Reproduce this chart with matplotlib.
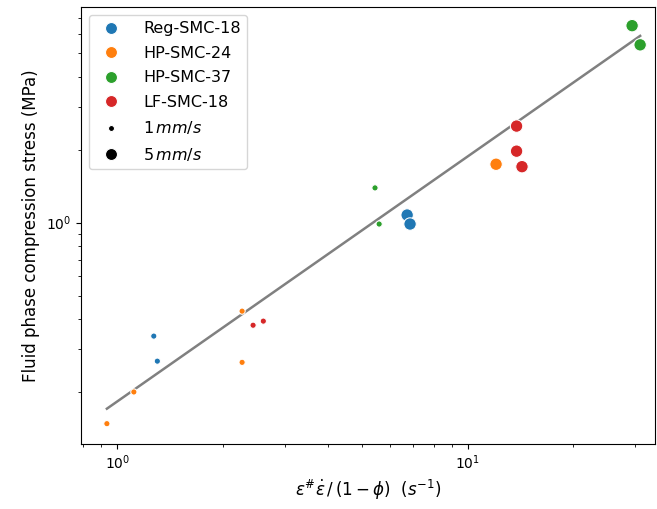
import numpy as np
import matplotlib
matplotlib.use('Agg')
from matplotlib import pyplot as plt
from matplotlib.lines import Line2D

# strain-rate term (1/s) and fluid phase stress (MPa)
reg_x = [1.27, 1.30, 6.72, 6.85]
reg_y = [0.340, 0.268, 1.074, 0.986]
reg_v = [1, 1, 5, 5]

hp24_x = [0.933, 1.114, 2.27, 2.27, 12.06]
hp24_y = [0.148, 0.200, 0.431, 0.265, 1.74]
hp24_v = [1, 1, 1, 1, 5]

hp37_x = [5.44, 5.59, 29.5, 31.1]
hp37_y = [1.39, 0.986, 6.49, 5.41]
hp37_v = [1, 1, 5, 5]

lf_x = [2.44, 2.61, 13.8, 13.8, 14.3]
lf_y = [0.377, 0.392, 2.50, 1.97, 1.70]
lf_v = [1, 1, 5, 5, 5]

names = ['Reg-SMC-18', 'HP-SMC-24', 'HP-SMC-37', 'LF-SMC-18']
colors = ['#1f77b4', '#ff7f0e', '#2ca02c', '#d62728']

# power law fit  y = a * x^b
fit_a = 0.183
fit_b = 1.01

sizes = {1: 20, 5: 80}

fig = plt.figure(figsize=(6.57, 5.09), dpi=100)
ax = fig.add_axes([0.1233, 0.1277, 0.8737, 0.8591])

groups = [(reg_x, reg_y, reg_v), (hp24_x, hp24_y, hp24_v),
          (hp37_x, hp37_y, hp37_v), (lf_x, lf_y, lf_v)]
for (gx, gy, gv), c in zip(groups, colors):
    ax.scatter(gx, gy, s=[sizes[v] for v in gv], color=c,
               edgecolor='white', linewidth=0.75, zorder=3)

all_x = np.concatenate([g[0] for g in groups])
x_fit = np.array([all_x.min(), all_x.max()])
ax.plot(x_fit, fit_a * x_fit ** fit_b, color='gray', lw=1.8, zorder=2)

ax.set_xscale('log')
ax.set_yscale('log')
ax.set_xlim(0.787, 34.3)
ax.set_ylim(0.122, 7.77)

ax.set_xlabel(r'$\varepsilon^{\#}\dot{\varepsilon}\,/\,(1-\phi)\ \ (s^{-1})$', fontsize=12)
ax.set_ylabel('Fluid phase compression stress (MPa)', fontsize=12)

handles = [Line2D([], [], marker='o', ls='', color=c, markersize=8.6,
                  markeredgecolor='white', markeredgewidth=0.75) for c in colors]
handles += [Line2D([], [], marker='o', ls='', color='black', markersize=4.3,
                   markeredgecolor='white', markeredgewidth=0.75),
            Line2D([], [], marker='o', ls='', color='black', markersize=8.6,
                   markeredgecolor='white', markeredgewidth=0.75)]
labels = names + [r'$1\,mm/s$', r'$5\,mm/s$']
ax.legend(handles, labels, loc='upper left', fontsize=11.5,
          labelspacing=0.6, handletextpad=1.0)

fig.savefig('out.png', dpi=100)
